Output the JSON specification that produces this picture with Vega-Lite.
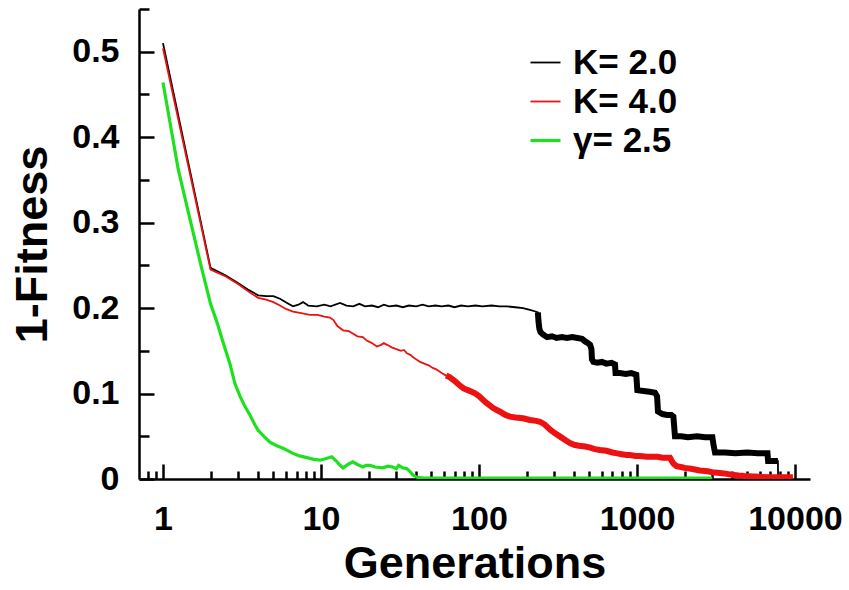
{
  "$schema": "https://vega.github.io/schema/vega-lite/v6.json",
  "width": 671,
  "height": 470,
  "autosize": {"type": "none"},
  "padding": {"left": 139, "top": 9, "right": 39, "bottom": 111},
  "background": "white",
  "config": {
    "view": {"stroke": null},
    "font": "Liberation Sans",
    "axis": {
      "grid": false,
      "domainColor": "black",
      "domainWidth": 2.5,
      "tickColor": "black",
      "tickWidth": 2.5,
      "labelColor": "black",
      "titleColor": "black",
      "labelFont": "Liberation Sans",
      "titleFont": "Liberation Sans",
      "labelFontWeight": "bold",
      "titleFontWeight": "bold",
      "labelFontSize": 34,
      "titleFontSize": 45
    }
  },
  "data": {
    "values": [
      {"series": "K= 2.0", "gen": 1, "val": 0.510},
      {"series": "K= 2.0", "gen": 2, "val": 0.247},
      {"series": "K= 2.0", "gen": 2.5, "val": 0.238},
      {"series": "K= 2.0", "gen": 3, "val": 0.229},
      {"series": "K= 2.0", "gen": 3.5, "val": 0.221},
      {"series": "K= 2.0", "gen": 4, "val": 0.215},
      {"series": "K= 2.0", "gen": 4.5, "val": 0.214},
      {"series": "K= 2.0", "gen": 5, "val": 0.214},
      {"series": "K= 2.0", "gen": 5.5, "val": 0.211},
      {"series": "K= 2.0", "gen": 6.1, "val": 0.206},
      {"series": "K= 2.0", "gen": 6.65, "val": 0.202},
      {"series": "K= 2.0", "gen": 7.2, "val": 0.204},
      {"series": "K= 2.0", "gen": 7.7, "val": 0.207},
      {"series": "K= 2.0", "gen": 8.3, "val": 0.203},
      {"series": "K= 2.0", "gen": 9.4, "val": 0.202},
      {"series": "K= 2.0", "gen": 10.5, "val": 0.204},
      {"series": "K= 2.0", "gen": 11.5, "val": 0.202},
      {"series": "K= 2.0", "gen": 13.2, "val": 0.206},
      {"series": "K= 2.0", "gen": 14.5, "val": 0.203},
      {"series": "K= 2.0", "gen": 16, "val": 0.202},
      {"series": "K= 2.0", "gen": 17.5, "val": 0.205},
      {"series": "K= 2.0", "gen": 19, "val": 0.202},
      {"series": "K= 2.0", "gen": 21, "val": 0.203},
      {"series": "K= 2.0", "gen": 23, "val": 0.201},
      {"series": "K= 2.0", "gen": 25, "val": 0.204},
      {"series": "K= 2.0", "gen": 27, "val": 0.202},
      {"series": "K= 2.0", "gen": 30, "val": 0.203},
      {"series": "K= 2.0", "gen": 33, "val": 0.201},
      {"series": "K= 2.0", "gen": 36, "val": 0.203},
      {"series": "K= 2.0", "gen": 40, "val": 0.202},
      {"series": "K= 2.0", "gen": 44, "val": 0.204},
      {"series": "K= 2.0", "gen": 48, "val": 0.202},
      {"series": "K= 2.0", "gen": 53, "val": 0.203},
      {"series": "K= 2.0", "gen": 58, "val": 0.202},
      {"series": "K= 2.0", "gen": 64, "val": 0.203},
      {"series": "K= 2.0", "gen": 70, "val": 0.201},
      {"series": "K= 2.0", "gen": 77, "val": 0.203},
      {"series": "K= 2.0", "gen": 85, "val": 0.202},
      {"series": "K= 2.0", "gen": 95, "val": 0.203},
      {"series": "K= 2.0", "gen": 105, "val": 0.202},
      {"series": "K= 2.0", "gen": 120, "val": 0.203},
      {"series": "K= 2.0", "gen": 135, "val": 0.202},
      {"series": "K= 2.0", "gen": 150, "val": 0.202},
      {"series": "K= 2.0", "gen": 170, "val": 0.201},
      {"series": "K= 2.0", "gen": 190, "val": 0.200},
      {"series": "K= 2.0", "gen": 210, "val": 0.198},
      {"series": "K= 2.0", "gen": 228, "val": 0.196},
      {"series": "K= 2.0", "gen": 236, "val": 0.195},
      {"series": "K= 2.0", "gen": 238, "val": 0.185},
      {"series": "K= 2.0", "gen": 241, "val": 0.176},
      {"series": "K= 2.0", "gen": 245, "val": 0.172},
      {"series": "K= 2.0", "gen": 255, "val": 0.169},
      {"series": "K= 2.0", "gen": 270, "val": 0.166},
      {"series": "K= 2.0", "gen": 290, "val": 0.167},
      {"series": "K= 2.0", "gen": 310, "val": 0.165},
      {"series": "K= 2.0", "gen": 335, "val": 0.166},
      {"series": "K= 2.0", "gen": 360, "val": 0.165},
      {"series": "K= 2.0", "gen": 390, "val": 0.166},
      {"series": "K= 2.0", "gen": 420, "val": 0.165},
      {"series": "K= 2.0", "gen": 449, "val": 0.164},
      {"series": "K= 2.0", "gen": 470, "val": 0.161},
      {"series": "K= 2.0", "gen": 490, "val": 0.159},
      {"series": "K= 2.0", "gen": 505, "val": 0.157},
      {"series": "K= 2.0", "gen": 515, "val": 0.152},
      {"series": "K= 2.0", "gen": 519, "val": 0.140},
      {"series": "K= 2.0", "gen": 530, "val": 0.137},
      {"series": "K= 2.0", "gen": 560, "val": 0.136},
      {"series": "K= 2.0", "gen": 600, "val": 0.137},
      {"series": "K= 2.0", "gen": 640, "val": 0.135},
      {"series": "K= 2.0", "gen": 690, "val": 0.136},
      {"series": "K= 2.0", "gen": 726, "val": 0.134},
      {"series": "K= 2.0", "gen": 732, "val": 0.124},
      {"series": "K= 2.0", "gen": 780, "val": 0.124},
      {"series": "K= 2.0", "gen": 850, "val": 0.123},
      {"series": "K= 2.0", "gen": 920, "val": 0.124},
      {"series": "K= 2.0", "gen": 990, "val": 0.122},
      {"series": "K= 2.0", "gen": 1005, "val": 0.104},
      {"series": "K= 2.0", "gen": 1100, "val": 0.103},
      {"series": "K= 2.0", "gen": 1200, "val": 0.102},
      {"series": "K= 2.0", "gen": 1300, "val": 0.101},
      {"series": "K= 2.0", "gen": 1340, "val": 0.097},
      {"series": "K= 2.0", "gen": 1358, "val": 0.079},
      {"series": "K= 2.0", "gen": 1450, "val": 0.076},
      {"series": "K= 2.0", "gen": 1550, "val": 0.075},
      {"series": "K= 2.0", "gen": 1650, "val": 0.075},
      {"series": "K= 2.0", "gen": 1700, "val": 0.073},
      {"series": "K= 2.0", "gen": 1740, "val": 0.050},
      {"series": "K= 2.0", "gen": 1900, "val": 0.050},
      {"series": "K= 2.0", "gen": 2100, "val": 0.049},
      {"series": "K= 2.0", "gen": 2400, "val": 0.050},
      {"series": "K= 2.0", "gen": 2700, "val": 0.049},
      {"series": "K= 2.0", "gen": 3000, "val": 0.049},
      {"series": "K= 2.0", "gen": 3050, "val": 0.040},
      {"series": "K= 2.0", "gen": 3120, "val": 0.031},
      {"series": "K= 2.0", "gen": 3600, "val": 0.031},
      {"series": "K= 2.0", "gen": 4200, "val": 0.030},
      {"series": "K= 2.0", "gen": 5000, "val": 0.031},
      {"series": "K= 2.0", "gen": 5800, "val": 0.030},
      {"series": "K= 2.0", "gen": 6700, "val": 0.030},
      {"series": "K= 2.0", "gen": 6760, "val": 0.021},
      {"series": "K= 2.0", "gen": 7200, "val": 0.021},
      {"series": "K= 2.0", "gen": 7800, "val": 0.021},
      {"series": "K= 2.0", "gen": 7820, "val": 0.0},
      {"series": "K= 2.0", "gen": 9300, "val": 0.0},

      {"series": "K= 4.0", "gen": 1, "val": 0.504},
      {"series": "K= 4.0", "gen": 2, "val": 0.245},
      {"series": "K= 4.0", "gen": 2.5, "val": 0.237},
      {"series": "K= 4.0", "gen": 3, "val": 0.228},
      {"series": "K= 4.0", "gen": 3.5, "val": 0.219},
      {"series": "K= 4.0", "gen": 4, "val": 0.212},
      {"series": "K= 4.0", "gen": 4.5, "val": 0.210},
      {"series": "K= 4.0", "gen": 5, "val": 0.207},
      {"series": "K= 4.0", "gen": 5.5, "val": 0.203},
      {"series": "K= 4.0", "gen": 6, "val": 0.199},
      {"series": "K= 4.0", "gen": 6.65, "val": 0.196},
      {"series": "K= 4.0", "gen": 7.5, "val": 0.194},
      {"series": "K= 4.0", "gen": 8.5, "val": 0.192},
      {"series": "K= 4.0", "gen": 9.5, "val": 0.192},
      {"series": "K= 4.0", "gen": 10.5, "val": 0.190},
      {"series": "K= 4.0", "gen": 11.4, "val": 0.189},
      {"series": "K= 4.0", "gen": 12, "val": 0.186},
      {"series": "K= 4.0", "gen": 12.7, "val": 0.179},
      {"series": "K= 4.0", "gen": 13.8, "val": 0.174},
      {"series": "K= 4.0", "gen": 15, "val": 0.173},
      {"series": "K= 4.0", "gen": 16, "val": 0.170},
      {"series": "K= 4.0", "gen": 17, "val": 0.167},
      {"series": "K= 4.0", "gen": 18.4, "val": 0.166},
      {"series": "K= 4.0", "gen": 19.5, "val": 0.162},
      {"series": "K= 4.0", "gen": 21, "val": 0.159},
      {"series": "K= 4.0", "gen": 22.6, "val": 0.155},
      {"series": "K= 4.0", "gen": 24, "val": 0.157},
      {"series": "K= 4.0", "gen": 25, "val": 0.159},
      {"series": "K= 4.0", "gen": 26.2, "val": 0.157},
      {"series": "K= 4.0", "gen": 28, "val": 0.154},
      {"series": "K= 4.0", "gen": 30, "val": 0.152},
      {"series": "K= 4.0", "gen": 32, "val": 0.150},
      {"series": "K= 4.0", "gen": 33.5, "val": 0.151},
      {"series": "K= 4.0", "gen": 35, "val": 0.147},
      {"series": "K= 4.0", "gen": 37, "val": 0.145},
      {"series": "K= 4.0", "gen": 38, "val": 0.143},
      {"series": "K= 4.0", "gen": 40, "val": 0.140},
      {"series": "K= 4.0", "gen": 42.4, "val": 0.137},
      {"series": "K= 4.0", "gen": 45, "val": 0.135},
      {"series": "K= 4.0", "gen": 48, "val": 0.133},
      {"series": "K= 4.0", "gen": 51, "val": 0.130},
      {"series": "K= 4.0", "gen": 54, "val": 0.128},
      {"series": "K= 4.0", "gen": 58, "val": 0.124},
      {"series": "K= 4.0", "gen": 62, "val": 0.121},
      {"series": "K= 4.0", "gen": 65.5, "val": 0.119},
      {"series": "K= 4.0", "gen": 70, "val": 0.115},
      {"series": "K= 4.0", "gen": 75, "val": 0.110},
      {"series": "K= 4.0", "gen": 80, "val": 0.106},
      {"series": "K= 4.0", "gen": 85, "val": 0.104},
      {"series": "K= 4.0", "gen": 90, "val": 0.102},
      {"series": "K= 4.0", "gen": 95, "val": 0.100},
      {"series": "K= 4.0", "gen": 100, "val": 0.097},
      {"series": "K= 4.0", "gen": 110, "val": 0.090},
      {"series": "K= 4.0", "gen": 123, "val": 0.083},
      {"series": "K= 4.0", "gen": 135, "val": 0.079},
      {"series": "K= 4.0", "gen": 147, "val": 0.075},
      {"series": "K= 4.0", "gen": 157, "val": 0.073},
      {"series": "K= 4.0", "gen": 170, "val": 0.072},
      {"series": "K= 4.0", "gen": 190, "val": 0.071},
      {"series": "K= 4.0", "gen": 210, "val": 0.069},
      {"series": "K= 4.0", "gen": 230, "val": 0.068},
      {"series": "K= 4.0", "gen": 243, "val": 0.067},
      {"series": "K= 4.0", "gen": 260, "val": 0.064},
      {"series": "K= 4.0", "gen": 270, "val": 0.061},
      {"series": "K= 4.0", "gen": 285, "val": 0.057},
      {"series": "K= 4.0", "gen": 300, "val": 0.054},
      {"series": "K= 4.0", "gen": 330, "val": 0.049},
      {"series": "K= 4.0", "gen": 355, "val": 0.045},
      {"series": "K= 4.0", "gen": 377, "val": 0.042},
      {"series": "K= 4.0", "gen": 400, "val": 0.040},
      {"series": "K= 4.0", "gen": 430, "val": 0.039},
      {"series": "K= 4.0", "gen": 470, "val": 0.038},
      {"series": "K= 4.0", "gen": 500, "val": 0.037},
      {"series": "K= 4.0", "gen": 540, "val": 0.035},
      {"series": "K= 4.0", "gen": 583, "val": 0.034},
      {"series": "K= 4.0", "gen": 640, "val": 0.033},
      {"series": "K= 4.0", "gen": 700, "val": 0.031},
      {"series": "K= 4.0", "gen": 750, "val": 0.030},
      {"series": "K= 4.0", "gen": 800, "val": 0.029},
      {"series": "K= 4.0", "gen": 860, "val": 0.028},
      {"series": "K= 4.0", "gen": 903, "val": 0.028},
      {"series": "K= 4.0", "gen": 980, "val": 0.027},
      {"series": "K= 4.0", "gen": 1050, "val": 0.027},
      {"series": "K= 4.0", "gen": 1150, "val": 0.026},
      {"series": "K= 4.0", "gen": 1250, "val": 0.026},
      {"series": "K= 4.0", "gen": 1350, "val": 0.026},
      {"series": "K= 4.0", "gen": 1450, "val": 0.025},
      {"series": "K= 4.0", "gen": 1550, "val": 0.025},
      {"series": "K= 4.0", "gen": 1618, "val": 0.025},
      {"series": "K= 4.0", "gen": 1650, "val": 0.022},
      {"series": "K= 4.0", "gen": 1700, "val": 0.018},
      {"series": "K= 4.0", "gen": 1780, "val": 0.015},
      {"series": "K= 4.0", "gen": 1900, "val": 0.014},
      {"series": "K= 4.0", "gen": 2000, "val": 0.013},
      {"series": "K= 4.0", "gen": 2200, "val": 0.012},
      {"series": "K= 4.0", "gen": 2500, "val": 0.010},
      {"series": "K= 4.0", "gen": 2800, "val": 0.009},
      {"series": "K= 4.0", "gen": 3000, "val": 0.008},
      {"series": "K= 4.0", "gen": 3350, "val": 0.007},
      {"series": "K= 4.0", "gen": 3700, "val": 0.006},
      {"series": "K= 4.0", "gen": 4000, "val": 0.005},
      {"series": "K= 4.0", "gen": 4400, "val": 0.004},
      {"series": "K= 4.0", "gen": 4800, "val": 0.0035},
      {"series": "K= 4.0", "gen": 5500, "val": 0.003},
      {"series": "K= 4.0", "gen": 6000, "val": 0.0025},
      {"series": "K= 4.0", "gen": 7000, "val": 0.002},
      {"series": "K= 4.0", "gen": 8000, "val": 0.002},
      {"series": "K= 4.0", "gen": 9700, "val": 0.002},

      {"series": "γ= 2.5", "gen": 1, "val": 0.464},
      {"series": "γ= 2.5", "gen": 1.25, "val": 0.362},
      {"series": "γ= 2.5", "gen": 1.5, "val": 0.300},
      {"series": "γ= 2.5", "gen": 1.75, "val": 0.248},
      {"series": "γ= 2.5", "gen": 2, "val": 0.205},
      {"series": "γ= 2.5", "gen": 2.2, "val": 0.183},
      {"series": "γ= 2.5", "gen": 2.4, "val": 0.160},
      {"series": "γ= 2.5", "gen": 2.66, "val": 0.134},
      {"series": "γ= 2.5", "gen": 2.85, "val": 0.112},
      {"series": "γ= 2.5", "gen": 3.07, "val": 0.097},
      {"series": "γ= 2.5", "gen": 3.3, "val": 0.085},
      {"series": "γ= 2.5", "gen": 3.55, "val": 0.075},
      {"series": "γ= 2.5", "gen": 3.8, "val": 0.064},
      {"series": "γ= 2.5", "gen": 4.0, "val": 0.057},
      {"series": "γ= 2.5", "gen": 4.4, "val": 0.049},
      {"series": "γ= 2.5", "gen": 4.75, "val": 0.043},
      {"series": "γ= 2.5", "gen": 5.25, "val": 0.039},
      {"series": "γ= 2.5", "gen": 5.75, "val": 0.036},
      {"series": "γ= 2.5", "gen": 6.2, "val": 0.033},
      {"series": "γ= 2.5", "gen": 6.65, "val": 0.030},
      {"series": "γ= 2.5", "gen": 7.3, "val": 0.027},
      {"series": "γ= 2.5", "gen": 8.15, "val": 0.025},
      {"series": "γ= 2.5", "gen": 9, "val": 0.023},
      {"series": "γ= 2.5", "gen": 9.85, "val": 0.022},
      {"series": "γ= 2.5", "gen": 10.8, "val": 0.024},
      {"series": "γ= 2.5", "gen": 11.7, "val": 0.026},
      {"series": "γ= 2.5", "gen": 12.5, "val": 0.021},
      {"series": "γ= 2.5", "gen": 13.2, "val": 0.016},
      {"series": "γ= 2.5", "gen": 13.8, "val": 0.013},
      {"series": "γ= 2.5", "gen": 14.8, "val": 0.017},
      {"series": "γ= 2.5", "gen": 15.9, "val": 0.020},
      {"series": "γ= 2.5", "gen": 17, "val": 0.017},
      {"series": "γ= 2.5", "gen": 18.4, "val": 0.014},
      {"series": "γ= 2.5", "gen": 19.3, "val": 0.016},
      {"series": "γ= 2.5", "gen": 20.4, "val": 0.016},
      {"series": "γ= 2.5", "gen": 22, "val": 0.014},
      {"series": "γ= 2.5", "gen": 24.6, "val": 0.013},
      {"series": "γ= 2.5", "gen": 26.5, "val": 0.015},
      {"series": "γ= 2.5", "gen": 28.5, "val": 0.014},
      {"series": "γ= 2.5", "gen": 30, "val": 0.012},
      {"series": "γ= 2.5", "gen": 31, "val": 0.016},
      {"series": "γ= 2.5", "gen": 33, "val": 0.013},
      {"series": "γ= 2.5", "gen": 35, "val": 0.012},
      {"series": "γ= 2.5", "gen": 36.5, "val": 0.009},
      {"series": "γ= 2.5", "gen": 38, "val": 0.005},
      {"series": "γ= 2.5", "gen": 40.5, "val": 0.002},
      {"series": "γ= 2.5", "gen": 45, "val": 0.001},
      {"series": "γ= 2.5", "gen": 100, "val": 0.001},
      {"series": "γ= 2.5", "gen": 300, "val": 0.001},
      {"series": "γ= 2.5", "gen": 1000, "val": 0.001},
      {"series": "γ= 2.5", "gen": 3000, "val": 0.001}
    ]
  },
  "layer": [
    {
      "mark": {"type": "line", "clip": true},
      "encoding": {
        "x": {
          "field": "gen", "type": "quantitative",
          "scale": {"type": "log", "domain": [0.705, 12450], "nice": false},
          "axis": {"orient": "bottom", "values": [1, 10, 100, 1000, 10000], "format": "d", "tickSize": -15, "labelPadding": 38, "title": "Generations", "titlePadding": 5}
        },
        "y": {
          "field": "val", "type": "quantitative",
          "scale": {"domain": [0, 0.55], "nice": false, "zero": false},
          "axis": {"orient": "left", "values": [0, 0.1, 0.2, 0.3, 0.4, 0.5], "labelExpr": "datum.value == 0 ? '0' : format(datum.value, '.1f')", "tickSize": -15, "labelPadding": 35, "title": "1-Fitness", "titlePadding": 16}
        },
        "color": {
          "field": "series", "type": "nominal",
          "scale": {"domain": ["K= 2.0", "K= 4.0", "γ= 2.5"], "range": ["#000000", "#ee1111", "#1fe01f"]},
          "legend": {"orient": "none", "legendX": 389, "legendY": 36, "title": null, "symbolType": "stroke", "symbolSize": 900, "symbolStrokeWidth": 1.8, "labelFont": "Liberation Sans", "labelFontSize": 35, "labelFontWeight": "bold", "labelColor": "black", "labelOffset": 10, "rowPadding": 3, "padding": 0}
        },
        "strokeWidth": {
          "field": "series", "type": "nominal",
          "scale": {"type": "ordinal", "domain": ["K= 2.0", "K= 4.0", "γ= 2.5"], "range": [1.8, 1.8, 3.2]},
          "legend": null
        }
      }
    },
    {
      "transform": [
        {"filter": "(datum.series == 'K= 4.0' && datum.gen >= 60) || (datum.series == 'K= 2.0' && datum.gen >= 236 && datum.gen <= 7800)"}
      ],
      "mark": {"type": "line", "clip": true, "strokeWidth": 6},
      "encoding": {
        "x": {
          "field": "gen", "type": "quantitative",
          "axis": {"orient": "bottom", "values": [0.8, 0.9, 2, 3, 4, 5, 6, 7, 8, 9, 20, 30, 40, 50, 60, 70, 80, 90, 200, 300, 400, 500, 600, 700, 800, 900, 2000, 3000, 4000, 5000, 6000, 7000, 8000, 9000], "tickSize": -8, "labels": false, "domain": false, "title": null}
        },
        "y": {
          "field": "val", "type": "quantitative",
          "axis": {"orient": "left", "values": [0.05, 0.15, 0.25, 0.35, 0.45, 0.55], "tickSize": -10, "labels": false, "domain": false, "title": null}
        },
        "color": {"field": "series", "type": "nominal"}
      }
    }
  ],
  "resolve": {"axis": {"x": "independent", "y": "independent"}}
}
